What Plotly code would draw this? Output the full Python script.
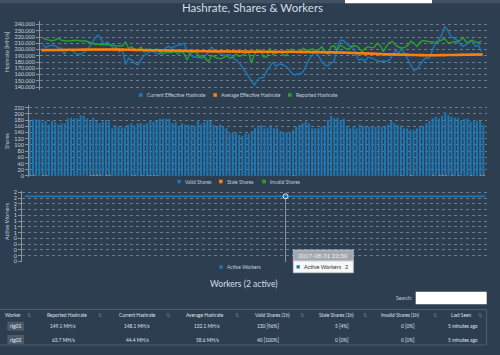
import pandas as pd
import plotly.graph_objects as go

W, H = 500, 355
BG = "#2c3e50"
BLUE, ORANGE, GREEN = "#1f77b4", "#ff7f0e", "#2ca02c"
TXT = "#c9d1d9"
GRID = "rgba(190,200,210,0.45)"
FONT = "Lato"

# ---------------- data ----------------
times = pd.date_range("2017-08-31 09:00", periods=144, freq="10min")

current_hashrate = [
    208, 203, 206, 207, 206, 203, 202, 193, 200, 200,
    196.5, 193, 192, 194, 197, 203, 209, 218, 223, 217,
    208, 212, 208, 202, 203, 196, 200, 176, 186, 183,
    178, 175, 184, 190, 194, 197, 196.6, 194, 193, 198,
    202, 205, 202, 205, 207, 207, 210, 198, 193, 188,
    188, 187, 186, 190, 195.5, 204, 198, 195, 193, 191,
    191, 192, 187, 183, 179, 172, 165, 158, 149, 143,
    152, 155, 155, 166, 173, 179, 173, 177, 176, 174,
    170, 163, 159, 161, 161, 165, 176, 186, 192, 196,
    189, 180, 175, 174, 178, 182, 204, 215, 214, 210,
    205, 206, 195, 183, 185, 181, 188, 187, 185, 182,
    181, 181.5, 181, 183, 190, 199, 194, 202, 193, 184,
    173, 166, 169, 176, 183, 187, 186, 199, 211, 215,
    223, 237, 231, 221, 218, 215, 209, 205, 208, 211,
    214, 205, 207, 197,
]
average_hashrate = [
    199.0, 199.1, 199.2, 199.2, 199.3, 199.4, 199.4, 199.5, 199.5, 199.6,
    199.6, 199.7, 199.7, 199.8, 199.8, 199.9, 199.9, 200.0, 200.0, 200.0,
    200.0, 200.0, 200.0, 199.9, 199.9, 199.8, 199.8, 199.7, 199.6, 199.5,
    199.4, 199.3, 199.2, 199.1, 199.0, 198.9, 198.8, 198.7, 198.6, 198.5,
    198.4, 198.3, 198.2, 198.1, 198.0, 197.9, 197.8, 197.7, 197.6, 197.5,
    197.4, 197.3, 197.2, 197.1, 197.0, 197.0, 196.9, 196.9, 196.8, 196.8,
    196.8, 196.7, 196.7, 196.7, 196.6, 196.6, 196.6, 196.5, 196.5, 196.5,
    196.5, 196.5, 196.5, 196.5, 196.5, 196.5, 196.5, 196.4, 196.4, 196.4,
    196.4, 196.3, 196.3, 196.3, 196.2, 196.2, 196.1, 196.1, 196.0, 196.0,
    195.9, 195.8, 195.7, 195.6, 195.5, 195.4, 195.3, 195.2, 195.0, 194.8,
    194.6, 194.4, 194.2, 194.0, 193.8, 193.6, 193.4, 193.2, 193.0, 192.8,
    192.6, 192.4, 192.2, 192.0, 191.9, 191.8, 191.7, 191.6, 191.5, 191.4,
    191.3, 191.2, 191.1, 191.0, 191.0, 190.9, 190.9, 190.9, 190.9, 190.9,
    191.0, 191.0, 191.1, 191.1, 191.2, 191.3, 191.4, 191.5, 191.6, 191.7,
    191.8, 191.9, 192.0, 192.0,
]
reported_hashrate = [
    218, 216, 215, 214, 215, 218, 215, 214, 213.6, 213.6,
    214.5, 215, 213.6, 213.6, 213.6, 212, 210, 208.3, 208.3, 208,
    207, 208, 207, 206, 206, 205.5, 206, 212, 202, 204.5,
    199, 198, 204, 196, 199, 201, 197, 201, 197, 193,
    195, 195, 195, 197, 193, 196.5, 194, 183.2, 194, 196,
    196, 189, 190, 186, 180.5, 190.5, 188, 186, 185, 187,
    190, 186, 187, 193, 189, 190.5, 193.5, 196.5, 179, 192,
    200, 198.5, 188, 188, 202.5, 192, 194, 196, 194, 190,
    195, 201, 197, 194.5, 197.5, 202, 198, 199, 201, 197,
    200, 204.5, 196.5, 192, 205, 206, 199, 207, 204.5, 201,
    201, 206, 206, 203, 196.5, 201.5, 204.5, 203, 203, 210,
    206, 196.5, 205, 211, 213, 207, 204, 202, 203.5, 207,
    213.5, 210, 205, 212, 214.5, 213, 212.5, 212.5, 211, 212.5,
    215, 217.5, 211, 211, 212.5, 212.5, 214.5, 219, 212, 212.5,
    215, 212, 211, 213.6,
]
valid_shares = [
    177, 182, 182, 182, 173, 177, 166, 177, 173, 166, 170, 170,
    186, 188, 186, 186, 196, 194,
    186, 175, 188, 177, 170, 175, 180, 175, 154, 164, 159, 156, 156, 164,
    170, 162, 170, 170, 166, 170, 180, 175, 177, 184, 184,
    184, 184, 170, 173, 162, 170, 166, 164, 164, 162,
    180, 166, 173, 180, 177, 164, 159, 166, 159, 154,
    137, 141, 141, 132, 130,
    137, 137, 145, 154, 156, 164, 154, 156, 164, 154, 154, 145, 141, 141, 141, 148,
    159, 164, 170, 175, 170, 154, 154, 154, 159, 159, 180,
    194, 186, 188, 180, 184, 162, 154, 159, 154, 166, 162,
    159, 159, 159, 159, 159, 159, 159, 166, 177, 170, 164, 162, 154,
    154, 148, 150, 154, 159, 162, 170, 177, 186, 191, 186, 194, 205,
    196, 191, 188, 186, 180, 184, 186, 175, 180, 177, 177, 166,
]
stale_shares = [
    4, 4, 0, 0, 3, 3, 0, 0, 0, 0, 0, 0, 0, 0, 0, 0, 0, 0, 0, 3,
    4, 5, 4, 0, 4, 3, 0, 0, 0, 0, 0, 0, 2, 2, 0, 2, 0, 2, 2, 3,
    2, 0, 0, 0, 0, 0, 0, 0, 0, 0, 0, 0, 0, 0, 0, 0, 0, 0, 0, 0,
    0, 0, 0, 0, 0, 0, 0, 0, 0, 0, 0, 0, 0, 0, 0, 0, 0, 0, 0, 0,
    0, 0, 0, 2, 0, 0, 0, 0, 0, 0, 0, 0, 0, 0, 0, 0, 0, 0, 0, 0,
    0, 0, 0, 0, 0, 0, 0, 0, 0, 0, 0, 0, 0, 0, 0, 0, 0, 2, 0, 0,
    3, 0, 0, 0, 0, 0, 0, 3, 0, 4, 4, 3, 0, 4, 0, 3, 0, 0, 0, 3,
    0, 0, 4, 4,
]
invalid_shares = [
    0, 0, 0, 0, 0, 0, 0, 0, 0, 0, 0, 0, 0, 0, 0, 0, 0, 0, 0, 0,
    0, 0, 0, 0, 0, 0, 0, 0, 0, 0, 0, 0, 0, 0, 0, 0, 0, 0, 0, 0,
    0, 0, 0, 0, 0, 0, 0, 0, 0, 0, 0, 0, 0, 0, 0, 0, 0, 0, 0, 0,
    0, 0, 0, 0, 0, 0, 0, 0, 0, 0, 0, 0, 0, 0, 0, 0, 0, 0, 0, 0,
    0, 0, 0, 0, 0, 0, 0, 0, 0, 0, 0, 0, 0, 0, 0, 0, 0, 0, 0, 0,
    0, 0, 0, 0, 0, 0, 0, 0, 0, 0, 0, 0, 0, 0, 0, 0, 0, 0, 0, 0,
    0, 0, 0, 0, 0, 0, 0, 0, 0, 0, 0, 0, 0, 0, 0, 0, 0, 0, 0, 0,
    0, 0, 0, 0,
]
active_workers = [
    2, 2, 2, 2, 2, 2, 2, 2, 2, 2, 2, 2, 2, 2, 2, 2, 2, 2, 2, 2,
    2, 2, 2, 2, 2, 2, 2, 2, 2, 2, 2, 2, 2, 2, 2, 2, 2, 2, 2, 2,
    2, 2, 2, 2, 2, 2, 2, 2, 2, 2, 2, 2, 2, 2, 2, 2, 2, 2, 2, 2,
    2, 2, 2, 2, 2, 2, 2, 2, 2, 2, 2, 2, 2, 2, 2, 2, 2, 2, 2, 2,
    2, 2, 2, 2, 2, 2, 2, 2, 2, 2, 2, 2, 2, 2, 2, 2, 2, 2, 2, 2,
    2, 2, 2, 2, 2, 2, 2, 2, 2, 2, 2, 2, 2, 2, 2, 2, 2, 2, 2, 2,
    2, 2, 2, 2, 2, 2, 2, 2, 2, 2, 2, 2, 2, 2, 2, 2, 2, 2, 2, 2,
    2, 2, 2, 2,
]
hashrate_ticks = [140, 150, 160, 170, 180, 190, 200, 210, 220, 230, 240]
shares_ticks = [0, 20, 40, 60, 80, 100, 120, 140, 160, 180, 200, 220]
worker_ticktext = ["0", "0", "0", "0", "0", "1", "1", "1", "1", "1", "2", "2", "2"]

hashrate_names = ["Current Effective Hashrate", "Average Effective Hashrate", "Reported Hashrate"]
share_names = ["Valid Shares", "Stale Shares", "Invalid Shares"]
worker_names = ["Active Workers"]
hover_time = "2017-08-31 22:30"

table_header = ["Worker", "Reported Hashrate", "Current Hashrate", "Average Hashrate",
                "Valid Shares (1h)", "Stale Shares (1h)", "Invalid Shares (1h)", "Last Seen"]
worker_ids = ["rig01", "rig02"]
reported_col = ["149.1 MH/s", "63.7 MH/s"]
current_col = ["148.1 MH/s", "44.4 MH/s"]
average_col = ["132.1 MH/s", "58.6 MH/s"]
valid_col = ["130 [96%]", "40 [100%]"]
stale_col = ["5 [4%]", "0 [0%]"]
invalid_col = ["0 [0%]", "0 [0%]"]
last_seen_col = ["5 minutes ago", "5 minutes ago"]


# ---------------- helpers ----------------
def X(px):
    return px / W


def Y(py):
    return 1 - py / H


STEP = pd.Timedelta(minutes=10)
step_ms = STEP.total_seconds() * 1000

fig = go.Figure()

# hashrate lines
fig.add_trace(go.Scatter(x=times, y=current_hashrate, xaxis="x", yaxis="y", mode="lines",
                         line=dict(color=BLUE, width=1.4), name=hashrate_names[0]))
fig.add_trace(go.Scatter(x=times, y=reported_hashrate, xaxis="x", yaxis="y", mode="lines",
                         line=dict(color=GREEN, width=1.4), name=hashrate_names[2]))
fig.add_trace(go.Scatter(x=times, y=average_hashrate, xaxis="x", yaxis="y", mode="lines+markers",
                         line=dict(color=ORANGE, width=2),
                         marker=dict(color=ORANGE, size=2.6, symbol="square"),
                         name=hashrate_names[1]))

# shares bars
fig.add_trace(go.Bar(x=times, y=valid_shares, xaxis="x2", yaxis="y2", marker_color=BLUE,
                     marker_line_width=0, width=0.62 * step_ms, offset=-0.36 * step_ms,
                     name=share_names[0]))
fig.add_trace(go.Bar(x=times, y=stale_shares, xaxis="x2", yaxis="y2", marker_color=ORANGE,
                     marker_line_width=0, width=0.45 * step_ms, offset=0.0,
                     name=share_names[1]))
fig.add_trace(go.Bar(x=times, y=invalid_shares, xaxis="x2", yaxis="y2", marker_color=GREEN,
                     marker_line_width=0, width=0.3 * step_ms, offset=0.15 * step_ms,
                     name=share_names[2]))

# workers line
fig.add_trace(go.Scatter(x=times, y=active_workers, xaxis="x3", yaxis="y3", mode="lines",
                         line=dict(color=BLUE, width=1.8), name=worker_names[0]))
hover_idx = list(times).index(pd.Timestamp(hover_time))
hover_val = active_workers[hover_idx]
fig.add_trace(go.Scatter(x=[times[hover_idx]], y=[hover_val], xaxis="x3", yaxis="y3",
                         mode="markers",
                         marker=dict(color=BLUE, size=5, line=dict(color="#dfe6ee", width=1)),
                         name="hover"))

axis_common = dict(showgrid=True, griddash="dot", gridcolor=GRID, gridwidth=1,
                   showline=True, linecolor="#8795a3", linewidth=1,
                   ticks="outside", ticklen=3, tickcolor="#8795a3",
                   tickfont=dict(size=5.5, color=TXT, family=FONT),
                   zeroline=False, automargin=False, fixedrange=True)

# workers axis: 13 evenly spaced ticks from 0 up to the axis top
w_lo, w_hi = -0.02, 2.163
w_step = 2.123 / 12
worker_tickvals = [k * w_step for k in range(13)]

fig.update_layout(
    width=W, height=H, margin=dict(l=0, r=0, t=0, b=0),
    paper_bgcolor=BG, plot_bgcolor=BG, showlegend=False,
    barmode="overlay", hovermode=False,
    font=dict(family=FONT, color=TXT),
    xaxis=dict(domain=[X(40), X(487)], anchor="y", visible=False, fixedrange=True,
               range=[times[0] - pd.Timedelta(minutes=9), times[-1] + pd.Timedelta(minutes=18)]),
    yaxis=dict(domain=[Y(90), Y(20.7)], anchor="x", range=[135.2, 246.1],
               tickvals=hashrate_ticks, tickformat=".3f", ticksuffix="M", **axis_common),
    xaxis2=dict(domain=[X(29), X(487)], anchor="y2", visible=False, fixedrange=True,
                range=[times[0] - pd.Timedelta(minutes=3), times[-1] + pd.Timedelta(minutes=11)]),
    yaxis2=dict(domain=[Y(176.7), Y(105)], anchor="x2", range=[-2.3, 228.7],
                tickvals=shares_ticks, **axis_common),
    xaxis3=dict(domain=[X(22), X(487)], anchor="y3", visible=False, fixedrange=True,
                range=[times[0] - pd.Timedelta(minutes=9), times[-1] + pd.Timedelta(minutes=6)]),
    yaxis3=dict(domain=[Y(262), Y(191)], anchor="x3", range=[w_lo, w_hi],
                tickvals=worker_tickvals, ticktext=worker_ticktext, **axis_common),
)

shapes = []
ann = []

# top strip
shapes.append(dict(type="rect", xref="paper", yref="paper", x0=0, x1=1, y0=Y(3.3), y1=1,
                   fillcolor="#435263", line_width=0, layer="above"))
shapes.append(dict(type="rect", xref="paper", yref="paper", x0=X(345), x1=X(432), y0=Y(3.3), y1=1,
                   fillcolor="#ffffff", line_width=0, layer="above"))

# title
ann.append(dict(text="Hashrate, Shares &amp; Workers", x=X(252), y=Y(8), xref="paper", yref="paper",
                showarrow=False, font=dict(size=11.5, color="#d6dde4", family=FONT),
                xanchor="center", yanchor="middle"))

# axis titles
for t, yc in [("Hashrate [MH/s]", 52), ("Shares", 141), ("Active Workers", 221)]:
    ann.append(dict(text=t, x=X(7), y=Y(yc), xref="paper", yref="paper", showarrow=False,
                    textangle=-90, font=dict(size=5.5, color=TXT, family=FONT),
                    xanchor="center", yanchor="middle"))


# manual legends
def legend(names, colors, lefts, ypx):
    for n, c, lx in zip(names, colors, lefts):
        shapes.append(dict(type="rect", xref="paper", yref="paper", x0=X(lx), x1=X(lx + 3.6),
                           y0=Y(ypx + 1.8), y1=Y(ypx - 1.8), fillcolor=c, line_width=0))
        ann.append(dict(text=n, x=X(lx + 5.5), y=Y(ypx), xref="paper", yref="paper",
                        showarrow=False, font=dict(size=5, color=TXT, family=FONT),
                        xanchor="left", yanchor="middle"))


legend(hashrate_names, [BLUE, ORANGE, GREEN], [139, 213.3, 288], 95)
legend(share_names, [BLUE, ORANGE, GREEN], [177.3, 219, 262.3], 181.5)
legend(worker_names, [BLUE], [219.3], 267)

# crosshair + tooltip
shapes.append(dict(type="line", xref="x3", yref="paper", x0=times[hover_idx], x1=times[hover_idx],
                   y0=Y(262), y1=Y(195), line=dict(color="#8a96a3", width=1), layer="below"))
tx0, tx1 = 293.3, 353.3
shapes.append(dict(type="rect", xref="paper", yref="paper", x0=X(tx0), x1=X(tx1),
                   y0=Y(261), y1=Y(250), fillcolor="#a3a8ae", line=dict(color="#c8ccd0", width=0.8)))
shapes.append(dict(type="rect", xref="paper", yref="paper", x0=X(tx0), x1=X(tx1),
                   y0=Y(272.7), y1=Y(261), fillcolor="#f7f7f7", line=dict(color="#c8ccd0", width=0.8)))
shapes.append(dict(type="rect", xref="paper", yref="paper", x0=X(296.5), x1=X(299.8),
                   y0=Y(268.5), y1=Y(265.2), fillcolor=BLUE, line_width=0))
ann.append(dict(text=hover_time, x=X(296), y=Y(255.5), xref="paper", yref="paper", showarrow=False,
                font=dict(size=6, color="#f0f0f0", family=FONT), xanchor="left", yanchor="middle"))
ann.append(dict(text=worker_names[0], x=X(302), y=Y(267), xref="paper", yref="paper", showarrow=False,
                font=dict(size=5.5, color="#333", family=FONT), xanchor="left", yanchor="middle"))
ann.append(dict(text=str(hover_val), x=X(350), y=Y(267), xref="paper", yref="paper", showarrow=False,
                font=dict(size=5.5, color="#333", family=FONT), xanchor="right", yanchor="middle"))

# workers table
ann.append(dict(text="Workers (2 active)", x=X(243), y=Y(283.5), xref="paper", yref="paper",
                showarrow=False, font=dict(size=8.5, color="#d6dde4", family=FONT),
                xanchor="center", yanchor="middle"))
ann.append(dict(text="Search:", x=X(413.5), y=Y(297.8), xref="paper", yref="paper", showarrow=False,
                font=dict(size=5, color=TXT, family=FONT), xanchor="right", yanchor="middle"))
shapes.append(dict(type="rect", xref="paper", yref="paper", x0=X(415.7), x1=X(486.7),
                   y0=Y(304.3), y1=Y(291.7), fillcolor="#ffffff", line_width=0))

LINE = "#4b5d6f"
shapes.append(dict(type="line", xref="paper", yref="paper", x0=0, x1=X(486.5), y0=Y(309.5), y1=Y(309.5),
                   line=dict(color=LINE, width=1)))
shapes.append(dict(type="line", xref="paper", yref="paper", x0=0, x1=X(486.5), y0=Y(345), y1=Y(345),
                   line=dict(color=LINE, width=1)))
shapes.append(dict(type="line", xref="paper", yref="paper", x0=X(486.5), x1=X(486.5), y0=Y(345), y1=Y(309.5),
                   line=dict(color=LINE, width=1)))

header_left = [3.3, 45, 117, 184, 253, 317, 379, 449]
sort_x = [29, 100, 168, 237, 302, 365, 435, 480]
for h, lx, sx in zip(table_header, header_left, sort_x):
    ann.append(dict(text=h, x=X(lx), y=Y(314.5), xref="paper", yref="paper", showarrow=False,
                    font=dict(size=4.8, color="#dfe5ea", family=FONT), xanchor="left", yanchor="middle"))
    ann.append(dict(text="⇅", x=X(sx), y=Y(314.5), xref="paper", yref="paper", showarrow=False,
                    font=dict(size=5, color="#6d7c8b", family="DejaVu Sans"), xanchor="center", yanchor="middle"))

value_cols = [reported_col, current_col, average_col, valid_col, stale_col, invalid_col, last_seen_col]
value_cx = [63, 137, 207, 268, 342, 408, 463]
row_y = [326.2, 339.5]
for r, ry in enumerate(row_y):
    shapes.append(dict(type="rect", xref="paper", yref="paper", x0=X(7.3), x1=X(24),
                       y0=Y(ry + 4.5), y1=Y(ry - 4.5), fillcolor="#4c5a69", line_width=0))
    ann.append(dict(text=worker_ids[r], x=X(15.6), y=Y(ry), xref="paper", yref="paper", showarrow=False,
                    font=dict(size=5, color="#e8ecf0", family=FONT), xanchor="center", yanchor="middle"))
    for col, cx in zip(value_cols, value_cx):
        ann.append(dict(text=col[r], x=X(cx), y=Y(ry), xref="paper", yref="paper", showarrow=False,
                        font=dict(size=4.8, color="#dfe5ea", family=FONT), xanchor="center", yanchor="middle"))

fig.update_layout(shapes=shapes, annotations=ann)
page_css = ("document.documentElement.style.overflow='hidden';"
            "document.body.style.overflow='hidden';"
            "document.body.style.margin='0';"
            "document.body.style.background='" + BG + "';")
fig.write_html("out.html", config={"displayModeBar": False, "staticPlot": True},
               post_script=page_css)
